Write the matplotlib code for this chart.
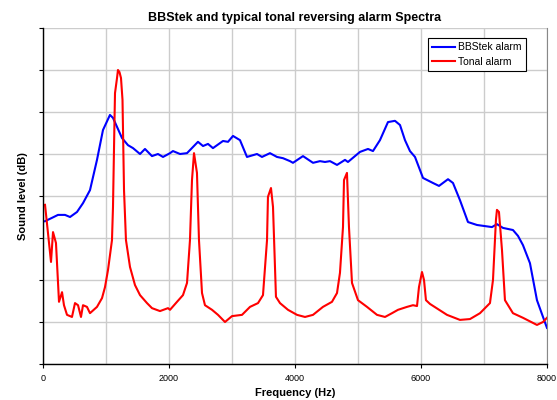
import numpy as np
import matplotlib.pyplot as plt

plt.rcParams['font.family'] = ['Liberation Sans', 'DejaVu Sans']

# BBStek alarm spectrum (Hz, dB relative)
bb_freq = [32, 143, 238, 349, 429, 540, 635, 746, 857, 952, 1063, 1111, 1254, 1349,
           1429, 1540, 1619, 1730, 1825, 1905, 2016, 2063, 2175, 2286, 2460, 2540,
           2619, 2698, 2857, 2937, 3016, 3127, 3238, 3397, 3476, 3603, 3714, 3810,
           3921, 3968, 4127, 4286, 4397, 4476, 4556, 4667, 4794, 4841, 5032, 5159,
           5238, 5349, 5476, 5587, 5667, 5746, 5825, 5905, 6032, 6190, 6286, 6429,
           6508, 6619, 6746, 6889, 6984, 7127, 7206, 7302, 7460, 7540, 7619, 7730,
           7841, 7937, 8000]
bb_level = [34.0, 34.8, 35.5, 35.5, 35.0, 36.2, 38.3, 41.4, 48.6, 55.7, 59.3, 58.6,
            53.8, 52.1, 51.4, 50.0, 51.2, 49.5, 50.0, 49.3, 50.2, 50.7, 50.0, 50.2,
            52.9, 51.9, 52.4, 51.4, 53.1, 52.9, 54.3, 53.3, 49.3, 50.0, 49.3, 50.2,
            49.3, 49.0, 48.3, 47.9, 49.5, 47.9, 48.3, 48.1, 48.3, 47.4, 48.6, 48.1,
            50.5, 51.2, 50.7, 53.3, 57.6, 57.9, 56.9, 53.3, 50.7, 49.3, 44.3, 43.1,
            42.4, 44.0, 43.1, 39.0, 33.8, 33.1, 32.9, 32.6, 33.3, 32.4, 31.9, 30.5,
            28.3, 24.0, 15.2, 11.2, 8.6]

# tonal alarm spectrum
ton_freq = [32, 79, 127, 159, 206, 254, 302, 333, 381, 429, 460, 508, 556, 603, 635,
            698, 746, 857, 937, 984, 1032, 1095, 1111, 1135, 1143, 1175, 1190, 1214,
            1238, 1262, 1278, 1286, 1317, 1381, 1460, 1540, 1651, 1730, 1857, 1984,
            2016, 2127, 2222, 2286, 2333, 2365, 2397, 2444, 2476, 2524, 2571, 2683,
            2778, 2889, 3000, 3159, 3286, 3413, 3492, 3556, 3571, 3619, 3651, 3698,
            3762, 3889, 4032, 4159, 4286, 4444, 4587, 4667, 4714, 4762, 4778, 4825,
            4857, 4905, 5000, 5143, 5302, 5429, 5540, 5635, 5778, 5873, 5937, 5968,
            6016, 6048, 6079, 6143, 6413, 6619, 6778, 6937, 7095, 7143, 7190, 7206,
            7238, 7286, 7333, 7460, 7619, 7841, 7937, 8000]
ton_level = [37.9, 31.2, 24.3, 31.4, 28.8, 14.8, 17.1, 14.0, 11.7, 11.4, 11.2, 14.5,
             14.0, 11.2, 14.0, 13.6, 12.1, 13.6, 15.7, 18.3, 22.4, 29.5, 37.4, 58.1,
             64.5, 68.1, 70.0, 69.5, 68.1, 62.9, 48.6, 41.4, 29.5, 23.1, 18.8, 16.4,
             14.5, 13.3, 12.6, 13.3, 12.9, 14.8, 16.4, 19.3, 29.5, 43.8, 50.2, 45.5,
             29.5, 16.9, 14.0, 12.9, 11.7, 10.0, 11.4, 11.7, 13.6, 14.5, 16.4, 29.5,
             39.8, 41.9, 37.4, 16.0, 14.5, 12.9, 11.7, 11.2, 11.7, 13.6, 14.8, 16.9,
             21.7, 32.6, 43.8, 45.5, 32.6, 19.3, 15.2, 13.6, 11.7, 11.2, 12.1, 12.9,
             13.6, 14.0, 13.8, 18.3, 21.9, 20.0, 15.2, 14.3, 11.7, 10.5, 10.7, 12.1,
             14.5, 20.0, 34.3, 36.7, 36.2, 27.1, 15.2, 12.1, 11.0, 9.3, 10.0, 11.0]

fig = plt.figure(figsize=(5.57, 4.0), dpi=100)
ax = fig.add_axes([0.0772, 0.09, 0.9048, 0.84])

ax.plot(bb_freq, bb_level, color='#0000ff', lw=1.5, label='BBStek alarm')
ax.plot(ton_freq, ton_level, color='#ff0000', lw=1.5, label='Tonal alarm')

ax.set_xlim(0, 8000)
ax.set_ylim(0, 80)
ax.set_xticks(np.arange(0, 8001, 2000))
ax.set_xticks(np.arange(0, 8001, 1000), minor=True)
ax.set_yticks(np.arange(0, 81, 10))
ax.set_yticklabels([])
ax.tick_params(axis='x', which='major', labelsize=6.5, length=3, width=0.8, pad=4)
ax.tick_params(axis='x', which='minor', length=0)
ax.tick_params(axis='y', length=3, width=0.8)
ax.grid(True, which='both', color='#cccccc', lw=1)
ax.set_axisbelow(True)

ax.spines['top'].set_visible(False)
ax.spines['right'].set_color('#888888')
ax.spines['left'].set_linewidth(1)
ax.spines['bottom'].set_linewidth(1)

ax.set_title('BBStek and typical tonal reversing alarm Spectra',
             fontsize=9, fontweight='bold', pad=5)
ax.set_xlabel('Frequency (Hz)', fontsize=8, fontweight='bold', labelpad=4)
ax.set_ylabel('Sound level (dB)', fontsize=8, fontweight='bold', labelpad=4)

leg = ax.legend(loc='upper right', bbox_to_anchor=(0.958, 0.97), fontsize=7.5,
                fancybox=False, edgecolor='black', framealpha=1,
                handlelength=2.2, handletextpad=0.3, borderpad=0.4,
                labelspacing=0.45, borderaxespad=0)
leg.get_frame().set_linewidth(0.8)

fig.savefig('out.png', dpi=100)
